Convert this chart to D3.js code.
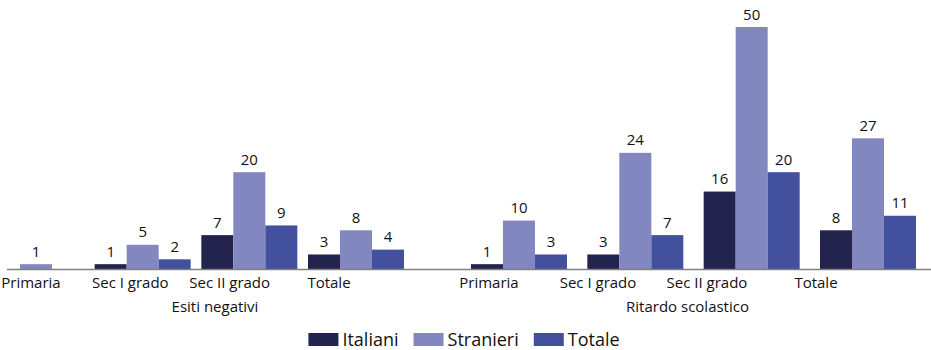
<!DOCTYPE html>
<html>
<head>
<meta charset="utf-8">
<script src="https://cdn.jsdelivr.net/npm/d3@7"></script>
<style>
  html, body { margin: 0; padding: 0; background: #fff; }
  svg { display: block; font-family: "Open Sans", sans-serif; }
</style>
</head>
<body>
<svg id="chart" width="931" height="350"></svg>
<script>
// Categories and series
const categories = ["Primaria", "Sec I grado", "Sec II grado", "Totale"];
const sections = ["Esiti negativi", "Ritardo scolastico"];
const seriesNames = ["Italiani", "Stranieri", "Totale"];
const colors = ["#23244e", "#8387bf", "#42509e"];

// Values (%), null = not shown
const esitiItaliani  = [null, 1, 7, 3];
const esitiStranieri = [1, 5, 20, 8];
const esitiTotale    = [null, 2, 9, 4];
const ritardoItaliani  = [1, 3, 16, 8];
const ritardoStranieri = [10, 24, 50, 27];
const ritardoTotale    = [3, 7, 20, 11];

const sectionData = [
  [esitiItaliani, esitiStranieri, esitiTotale],
  [ritardoItaliani, ritardoStranieri, ritardoTotale]
];

const textColor = "#111";
const svg = d3.select("#chart");
const baseY = 269;

const y = d3.scaleLinear().domain([0, 50]).range([baseY, 27]);

// group centres per section
const groupX = [
  d3.scalePoint().domain(categories).range([36, 356]),
  d3.scalePoint().domain(categories).range([519, 868])
];
// category label centres per section
const labelX = [
  d3.scalePoint().domain(categories).range([31, 329]),
  d3.scalePoint().domain(categories).range([489, 816])
];
// bars within a group
const inner = d3.scaleBand().domain(seriesNames).range([-48, 48]).padding(0);

sections.forEach((sec, si) => {
  const g = svg.append("g");
  const rows = [];
  sectionData[si].forEach((vals, k) => {
    vals.forEach((v, ci) => {
      if (v !== null) rows.push({ cat: categories[ci], series: seriesNames[k], k, v });
    });
  });

  g.selectAll("rect").data(rows).join("rect")
    .attr("x", d => groupX[si](d.cat) + inner(d.series))
    .attr("width", inner.bandwidth())
    .attr("y", d => y(d.v))
    .attr("height", d => baseY - y(d.v))
    .attr("fill", d => colors[d.k]);

  g.selectAll("text.val").data(rows).join("text")
    .attr("class", "val")
    .attr("x", d => groupX[si](d.cat) + inner(d.series) + inner.bandwidth() / 2)
    .attr("y", d => y(d.v) - 7.5)
    .attr("text-anchor", "middle")
    .attr("font-size", 15)
    .attr("fill", textColor)
    .text(d => d.v);

  g.selectAll("text.cat").data(categories).join("text")
    .attr("class", "cat")
    .attr("x", d => labelX[si](d))
    .attr("y", 288)
    .attr("text-anchor", "middle")
    .attr("font-size", 15)
    .attr("fill", textColor)
    .text(d => d);

  const r = labelX[si].range();
  g.append("text")
    .attr("x", (r[0] + r[1]) / 2 + 35)
    .attr("y", 312)
    .attr("text-anchor", "middle")
    .attr("font-size", 15)
    .attr("fill", textColor)
    .text(sec);
});

// category axis line
svg.append("line")
  .attr("x1", 7).attr("x2", 931)
  .attr("y1", baseY + 0.5).attr("y2", baseY + 0.5)
  .attr("stroke", "#808080").attr("stroke-width", 1.4);

// legend
const legend = svg.append("g");
let lx = 0;
seriesNames.forEach((name, i) => {
  const item = legend.append("g").attr("transform", `translate(${lx},0)`);
  item.append("rect").attr("x", 0).attr("y", 333).attr("width", 30).attr("height", 13).attr("fill", colors[i]);
  const t = item.append("text").attr("x", 34).attr("y", 346)
    .attr("font-size", 18).attr("fill", textColor).text(name);
  lx += 34 + t.node().getComputedTextLength() + 15;
});
const legendW = lx - 15;
legend.attr("transform", `translate(${464 - legendW / 2},0)`);
</script>
</body>
</html>
